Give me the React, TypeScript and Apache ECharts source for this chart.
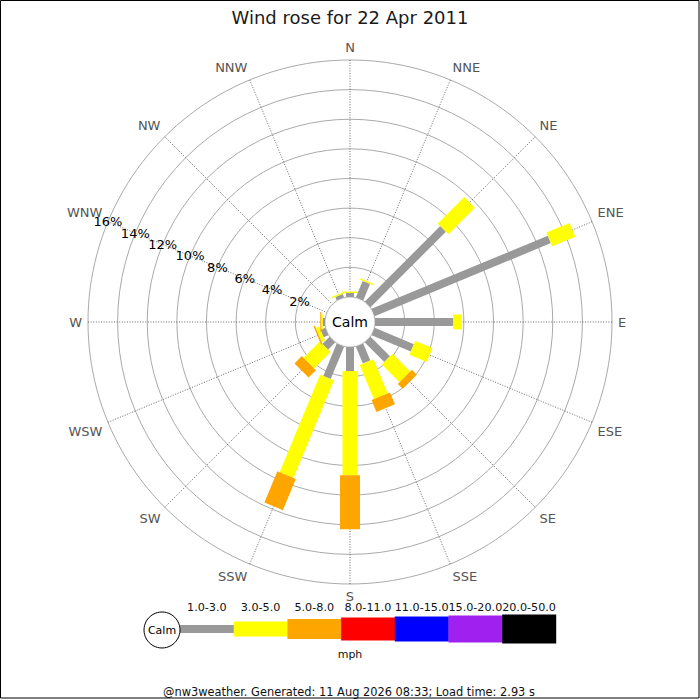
import React, { useEffect, useRef } from 'react';
import * as echarts from 'echarts';

// ---- data ----
const directions = ['N', 'NNE', 'NE', 'ENE', 'E', 'ESE', 'SE', 'SSE', 'S', 'SSW', 'SW', 'WSW', 'W', 'WNW', 'NW', 'NNW'];
const speedBands = ['1.0-3.0', '3.0-5.0', '5.0-8.0', '8.0-11.0', '11.0-15.0', '15.0-20.0', '20.0-50.0'];
// percentage of time, per direction (N..NNW), per speed band (mph)
const band1to3 = [0.27, 1.2, 7.2, 12.88, 5.29, 2.87, 1.86, 1.24, 1.62, 2.37, 0.68, 0.35, 0.15, 0, 0, 0.25];
const band3to5 = [0.1, 0.1, 2.53, 1.69, 0.57, 1.26, 1.69, 2.5, 7.03, 7.13, 1.56, 0.25, 0.1, 0, 0, 0.1];
const band5to8 = [0, 0, 0, 0, 0, 0, 0.47, 0.87, 3.65, 2.28, 0.7, 0.1, 0.07, 0, 0, 0];
const band8to11 = [0, 0, 0, 0, 0, 0, 0, 0, 0, 0, 0, 0, 0, 0, 0, 0];
const band11to15 = [0, 0, 0, 0, 0, 0, 0, 0, 0, 0, 0, 0, 0, 0, 0, 0];
const band15to20 = [0, 0, 0, 0, 0, 0, 0, 0, 0, 0, 0, 0, 0, 0, 0, 0];
const band20to50 = [0, 0, 0, 0, 0, 0, 0, 0, 0, 0, 0, 0, 0, 0, 0, 0];
const radiusTicks = [2, 4, 6, 8, 10, 12, 14, 16];
const titleText = 'Wind rose for 22 Apr 2011';
const footerText = '@nw3weather. Generated: 11 Aug 2026 08:33; Load time: 2.93 s';

// ---- styles ----
const bandColors = ['#999999', '#ffff00', '#ffa500', '#ff0000', '#0000ff', '#a020f0', '#000000'];
const bandWidths = [8, 15, 20, 23, 25, 27, 29];
const FONT = 'DejaVu Sans';

const allBands = [band1to3, band3to5, band5to8, band8to11, band11to15, band15to20, band20to50];
const STEP = 360 / directions.length;
const RMAX = radiusTicks[radiusTicks.length - 1];

function buildOption() {
  const barSeries = allBands.map((band, b) => ({
    type: 'custom',
    coordinateSystem: 'polar',
    silent: true,
    z: 3,
    data: directions.map((_, i) => {
      let start = 0;
      for (let k = 0; k < b; k++) start += allBands[k][i];
      return [i, start, start + band[i]];
    }),
    renderItem: (params: any, api: any) => {
      const i = api.value(0);
      const s = api.value(1);
      const e = api.value(2);
      if (!(e - s > 0)) return null;
      const ang = i * STEP;
      const p0 = api.coord([s, ang]);
      const p1 = api.coord([e, ang]);
      const q0 = api.coord([0, ang]);
      const q1 = api.coord([RMAX, ang]);
      const dx = q1[0] - q0[0];
      const dy = q1[1] - q0[1];
      const len = Math.sqrt(dx * dx + dy * dy);
      const ux = dx / len;
      const uy = dy / len;
      const hw = bandWidths[b] / 2;
      const nx = -uy * hw;
      const ny = ux * hw;
      return {
        type: 'polygon',
        shape: {
          points: [
            [p0[0] + nx, p0[1] + ny],
            [p1[0] + nx, p1[1] + ny],
            [p1[0] - nx, p1[1] - ny],
            [p0[0] - nx, p0[1] - ny],
          ],
        },
        style: { fill: bandColors[b], stroke: null },
      };
    },
  }));

  const labelSeries = {
    type: 'custom',
    coordinateSystem: 'polar',
    silent: true,
    z: 4,
    data: radiusTicks.map((v) => [v, 292.5]),
    renderItem: (params: any, api: any) => {
      const p = api.coord([api.value(0), api.value(1)]);
      return {
        type: 'text',
        x: p[0],
        y: p[1],
        style: {
          text: api.value(0) + '%',
          fill: '#000',
          fontSize: 13,
          fontFamily: FONT,
          align: 'center',
          verticalAlign: 'middle',
        },
      };
    },
  };

  // legend graphic built from band arrays
  const legendX0 = 180;
  const segW = 53.7;
  const legendY = 629;
  const legendEls: any[] = [];
  speedBands.forEach((name, k) => {
    const x = legendX0 + k * segW;
    legendEls.push({
      type: 'rect',
      shape: { x, y: legendY - bandWidths[k] / 2, width: segW + 0.3, height: bandWidths[k] },
      style: { fill: bandColors[k] },
      z: 10,
    });
    legendEls.push({
      type: 'text',
      x: x + segW / 2,
      y: 607,
      style: { text: name, fill: '#111', fontSize: 11.2, fontFamily: FONT, align: 'center', verticalAlign: 'middle' },
      z: 10,
    });
  });

  return {
    animation: false,
    backgroundColor: '#fff',
    title: {
      text: titleText,
      left: 'center',
      top: 3,
      textStyle: { fontSize: 18, fontWeight: 'normal', color: '#1a1a1a', fontFamily: FONT },
    },
    polar: { center: [350, 322], radius: [25, 262] },
    angleAxis: {
      type: 'value',
      min: 0,
      max: 360,
      interval: STEP,
      startAngle: 90,
      clockwise: true,
      axisLine: { show: false },
      axisTick: { show: false },
      axisLabel: {
        margin: 6,
        color: '#555555',
        fontSize: 13,
        fontFamily: FONT,
        formatter: (v: number) => (v >= 360 ? '' : directions[Math.round(v / STEP) % directions.length]),
      },
      splitLine: { show: true, lineStyle: { color: '#444444', width: 0.8, type: [1, 1.6] } },
    },
    radiusAxis: {
      type: 'value',
      min: 0,
      max: RMAX,
      interval: 2,
      axisLine: { show: false },
      axisTick: { show: false },
      axisLabel: { show: false },
      splitLine: { show: true, lineStyle: { color: '#aaaaaa', width: 1 } },
    },
    series: [...barSeries, labelSeries],
    graphic: [
      {
        type: 'rect',
        shape: { x: 0.5, y: 0.5, width: 698.5, height: 697.5 },
        style: { fill: null, stroke: '#000', lineWidth: 1 },
        z: 20,
        silent: true,
      },
      {
        type: 'group',
        z: 10,
        children: [
          { type: 'circle', shape: { cx: 350, cy: 322, r: 24.5 }, style: { fill: '#fff', stroke: '#cccccc', lineWidth: 0.5 }, z: 10 },
          {
            type: 'text',
            x: 350,
            y: 322,
            style: { text: 'Calm', fill: '#000', fontSize: 14, fontFamily: FONT, align: 'center', verticalAlign: 'middle' },
            z: 11,
          },
        ],
      },
      { type: 'circle', shape: { cx: 162, cy: 630, r: 18 }, style: { fill: '#fff', stroke: '#000', lineWidth: 1 }, z: 11 },
      {
        type: 'text',
        x: 162,
        y: 630,
        style: { text: 'Calm', fill: '#000', fontSize: 11, fontFamily: FONT, align: 'center', verticalAlign: 'middle' },
        z: 12,
      },
      ...legendEls,
      {
        type: 'text',
        x: 350,
        y: 654,
        style: { text: 'mph', fill: '#111', fontSize: 11, fontFamily: FONT, align: 'center', verticalAlign: 'middle' },
        z: 10,
      },
      {
        type: 'text',
        x: 349,
        y: 692,
        style: { text: footerText, fill: '#111', fontSize: 11.4, fontFamily: FONT, align: 'center', verticalAlign: 'middle' },
        z: 10,
      },
    ],
  };
}

export default function App() {
  const ref = useRef<HTMLDivElement>(null);
  useEffect(() => {
    if (!ref.current) return;
    const chart = echarts.init(ref.current, undefined, { renderer: 'svg' });
    chart.setOption(buildOption() as any);
    return () => chart.dispose();
  }, []);
  return (
    <div
      ref={ref}
      style={{ position: 'fixed', left: 0, top: 0, width: 700, height: 700, background: '#fff' }}
    />
  );
}
